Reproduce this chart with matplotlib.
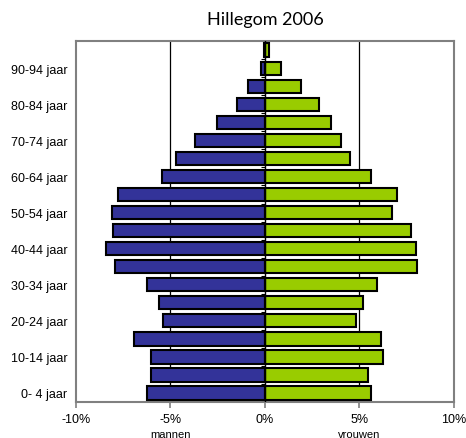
import numpy as np
import matplotlib
matplotlib.use('Agg')
from matplotlib import pyplot as plt

# leeftijdsgroepen, van jong naar oud
groepen = ['0- 4 jaar', '5- 9 jaar', '10-14 jaar', '15-19 jaar', '20-24 jaar',
           '25-29 jaar', '30-34 jaar', '35-39 jaar', '40-44 jaar', '45-49 jaar',
           '50-54 jaar', '55-59 jaar', '60-64 jaar', '65-69 jaar', '70-74 jaar',
           '75-79 jaar', '80-84 jaar', '85-89 jaar', '90-94 jaar', '95+ jaar']
# percentages van de totale bevolking
mannen = [6.25, 6.03, 6.01, 6.94, 5.41, 5.60, 6.25, 7.94, 8.43, 8.02,
          8.08, 7.78, 5.43, 4.68, 3.72, 2.53, 1.48, 0.87, 0.23, 0.07]
vrouwen = [5.60, 5.43, 6.25, 6.12, 4.84, 5.21, 5.91, 8.06, 8.01, 7.74,
           6.71, 6.98, 5.60, 4.48, 4.00, 3.50, 2.85, 1.92, 0.84, 0.20]

blauw = '#333399'
groen = '#99cc00'

fig = plt.figure(figsize=(4.66, 4.39), dpi=100)
ax = fig.add_axes([0.163, 0.082, 0.811, 0.822])

y = np.arange(len(groepen))
ax.barh(y, -np.array(mannen), height=0.74, color=blauw, edgecolor='black', linewidth=1.5, zorder=3)
ax.barh(y, vrouwen, height=0.74, color=groen, edgecolor='black', linewidth=1.5, zorder=3)

ax.set_xlim(-10, 10)
ax.set_ylim(-0.5, len(groepen) - 0.5)

# rasterlijnen en nullijn
for v in (-5, 5):
    ax.axvline(v, color='black', linewidth=0.9, zorder=1)
ax.axvline(0, color='black', linewidth=1.0, zorder=4)
ax.hlines(np.arange(len(groepen)) - 0.5, -0.2, 0, color='black', linewidth=0.8, zorder=4)

ax.set_xticks([-10, -5, 0, 5, 10])
ax.set_xticklabels(['-10%', '-5%', '0%', '5%', '10%'], fontsize=9, family='Liberation Sans')
ax.set_yticks(y[::2])
ax.set_yticklabels(groepen[::2], fontsize=9, family='Liberation Sans')
ax.tick_params(axis='y', length=0, pad=6)
ax.tick_params(axis='x', length=4, color='#808080', width=1.2, pad=4)

for s in ax.spines.values():
    s.set_color('#808080')
    s.set_linewidth(1.5)

ax.text(-5, -0.088, 'mannen', transform=ax.get_xaxis_transform(), ha='center', va='center',
        fontsize=8, family='Liberation Sans')
ax.text(5, -0.088, 'vrouwen', transform=ax.get_xaxis_transform(), ha='center', va='center',
        fontsize=8, family='Liberation Sans')

fig.text(0.57, 0.955, 'Hillegom 2006', ha='center', va='center', fontsize=13, family='Lato')

fig.savefig('out.png', dpi=100)
